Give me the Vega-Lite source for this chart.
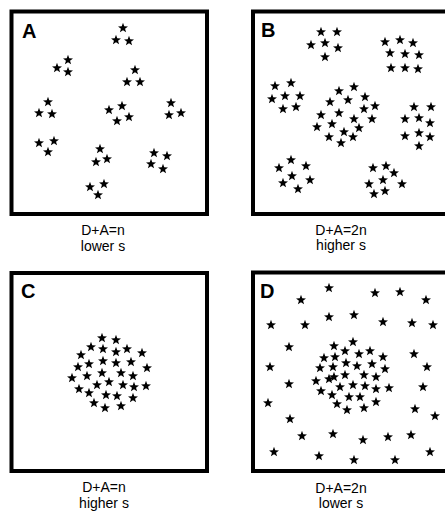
{
  "$schema": "https://vega.github.io/schema/vega-lite/v6.json",
  "width": 445,
  "height": 518,
  "autosize": {"type": "none"},
  "padding": 0,
  "background": "white",
  "config": {"view": {"stroke": null}},
  "layer": [
    {
      "data": {"values": [
        {"panel": "A", "x1": 11.5, "x2": 207, "y1": 11.5, "y2": 214},
        {"panel": "B", "x1": 253, "x2": 470, "y1": 11.5, "y2": 214},
        {"panel": "C", "x1": 11.5, "x2": 207, "y1": 273, "y2": 471},
        {"panel": "D", "x1": 253, "x2": 470, "y1": 272.5, "y2": 471}
      ]},
      "mark": {"type": "rect", "filled": false, "stroke": "black", "strokeWidth": 4},
      "encoding": {
        "x": {"field": "x1", "type": "quantitative", "scale": {"domain": [0, 445]}, "axis": null},
        "x2": {"field": "x2"},
        "y": {"field": "y1", "type": "quantitative", "scale": {"domain": [0, 518], "reverse": true}, "axis": null},
        "y2": {"field": "y2"}
      }
    },
    {
      "data": {"values": [
        {"panel": "A", "x": 123, "y": 28}, {"panel": "A", "x": 116, "y": 40}, {"panel": "A", "x": 129, "y": 41},
        {"panel": "A", "x": 68, "y": 60}, {"panel": "A", "x": 57, "y": 68}, {"panel": "A", "x": 68, "y": 72},
        {"panel": "A", "x": 135, "y": 70}, {"panel": "A", "x": 127, "y": 82}, {"panel": "A", "x": 140, "y": 82},
        {"panel": "A", "x": 48, "y": 102}, {"panel": "A", "x": 39, "y": 113}, {"panel": "A", "x": 52, "y": 114},
        {"panel": "A", "x": 122, "y": 106}, {"panel": "A", "x": 109, "y": 110}, {"panel": "A", "x": 117, "y": 121}, {"panel": "A", "x": 129, "y": 117},
        {"panel": "A", "x": 171, "y": 103}, {"panel": "A", "x": 169, "y": 115}, {"panel": "A", "x": 181, "y": 113},
        {"panel": "A", "x": 39, "y": 143}, {"panel": "A", "x": 54, "y": 141}, {"panel": "A", "x": 48, "y": 152},
        {"panel": "A", "x": 100, "y": 149}, {"panel": "A", "x": 96, "y": 162}, {"panel": "A", "x": 107, "y": 159},
        {"panel": "A", "x": 154, "y": 153}, {"panel": "A", "x": 167, "y": 156}, {"panel": "A", "x": 151, "y": 164}, {"panel": "A", "x": 163, "y": 169},
        {"panel": "A", "x": 104, "y": 184}, {"panel": "A", "x": 90, "y": 187}, {"panel": "A", "x": 98, "y": 195},

        {"panel": "B", "x": 321, "y": 32}, {"panel": "B", "x": 337, "y": 32}, {"panel": "B", "x": 311, "y": 45}, {"panel": "B", "x": 325, "y": 43}, {"panel": "B", "x": 338, "y": 48}, {"panel": "B", "x": 325, "y": 57},
        {"panel": "B", "x": 385, "y": 42}, {"panel": "B", "x": 400, "y": 40}, {"panel": "B", "x": 413, "y": 43}, {"panel": "B", "x": 390, "y": 53}, {"panel": "B", "x": 405, "y": 54}, {"panel": "B", "x": 419, "y": 55}, {"panel": "B", "x": 391, "y": 68}, {"panel": "B", "x": 405, "y": 68}, {"panel": "B", "x": 418, "y": 69},
        {"panel": "B", "x": 275, "y": 86}, {"panel": "B", "x": 291, "y": 83}, {"panel": "B", "x": 272, "y": 99}, {"panel": "B", "x": 285, "y": 96}, {"panel": "B", "x": 300, "y": 96}, {"panel": "B", "x": 283, "y": 109}, {"panel": "B", "x": 296, "y": 107},
        {"panel": "B", "x": 339, "y": 91}, {"panel": "B", "x": 354, "y": 87}, {"panel": "B", "x": 330, "y": 102}, {"panel": "B", "x": 348, "y": 100}, {"panel": "B", "x": 365, "y": 97}, {"panel": "B", "x": 321, "y": 115}, {"panel": "B", "x": 339, "y": 113}, {"panel": "B", "x": 364, "y": 109}, {"panel": "B", "x": 375, "y": 106}, {"panel": "B", "x": 317, "y": 127}, {"panel": "B", "x": 332, "y": 124}, {"panel": "B", "x": 354, "y": 119}, {"panel": "B", "x": 372, "y": 119}, {"panel": "B", "x": 329, "y": 137}, {"panel": "B", "x": 344, "y": 132}, {"panel": "B", "x": 359, "y": 128}, {"panel": "B", "x": 341, "y": 143}, {"panel": "B", "x": 353, "y": 137},
        {"panel": "B", "x": 414, "y": 107}, {"panel": "B", "x": 431, "y": 107}, {"panel": "B", "x": 405, "y": 119}, {"panel": "B", "x": 419, "y": 118}, {"panel": "B", "x": 430, "y": 123}, {"panel": "B", "x": 405, "y": 136}, {"panel": "B", "x": 419, "y": 133}, {"panel": "B", "x": 430, "y": 137}, {"panel": "B", "x": 419, "y": 146},
        {"panel": "B", "x": 279, "y": 168}, {"panel": "B", "x": 291, "y": 160}, {"panel": "B", "x": 306, "y": 166}, {"panel": "B", "x": 283, "y": 183}, {"panel": "B", "x": 292, "y": 176}, {"panel": "B", "x": 310, "y": 180}, {"panel": "B", "x": 298, "y": 189},
        {"panel": "B", "x": 373, "y": 168}, {"panel": "B", "x": 386, "y": 166}, {"panel": "B", "x": 394, "y": 173}, {"panel": "B", "x": 369, "y": 184}, {"panel": "B", "x": 383, "y": 180}, {"panel": "B", "x": 402, "y": 184}, {"panel": "B", "x": 374, "y": 194}, {"panel": "B", "x": 385, "y": 191},

        {"panel": "C", "x": 102, "y": 338}, {"panel": "C", "x": 116, "y": 340}, {"panel": "C", "x": 91, "y": 347}, {"panel": "C", "x": 103, "y": 349}, {"panel": "C", "x": 116, "y": 352}, {"panel": "C", "x": 127, "y": 349}, {"panel": "C", "x": 142, "y": 353},
        {"panel": "C", "x": 81, "y": 355}, {"panel": "C", "x": 78, "y": 367}, {"panel": "C", "x": 89, "y": 364}, {"panel": "C", "x": 103, "y": 361}, {"panel": "C", "x": 116, "y": 363}, {"panel": "C", "x": 131, "y": 362}, {"panel": "C", "x": 147, "y": 368},
        {"panel": "C", "x": 72, "y": 378}, {"panel": "C", "x": 87, "y": 376}, {"panel": "C", "x": 102, "y": 373}, {"panel": "C", "x": 121, "y": 373}, {"panel": "C", "x": 133, "y": 376},
        {"panel": "C", "x": 79, "y": 389}, {"panel": "C", "x": 97, "y": 385}, {"panel": "C", "x": 109, "y": 382}, {"panel": "C", "x": 123, "y": 385}, {"panel": "C", "x": 134, "y": 387}, {"panel": "C", "x": 146, "y": 386},
        {"panel": "C", "x": 89, "y": 393}, {"panel": "C", "x": 106, "y": 395}, {"panel": "C", "x": 117, "y": 396},
        {"panel": "C", "x": 94, "y": 403}, {"panel": "C", "x": 105, "y": 408}, {"panel": "C", "x": 121, "y": 406}, {"panel": "C", "x": 133, "y": 398},

        {"panel": "D", "x": 329, "y": 288}, {"panel": "D", "x": 301, "y": 300}, {"panel": "D", "x": 375, "y": 293}, {"panel": "D", "x": 400, "y": 292}, {"panel": "D", "x": 426, "y": 300},
        {"panel": "D", "x": 271, "y": 325}, {"panel": "D", "x": 305, "y": 325}, {"panel": "D", "x": 329, "y": 317}, {"panel": "D", "x": 354, "y": 315}, {"panel": "D", "x": 383, "y": 322}, {"panel": "D", "x": 412, "y": 323}, {"panel": "D", "x": 433, "y": 325},
        {"panel": "D", "x": 289, "y": 347}, {"panel": "D", "x": 414, "y": 354}, {"panel": "D", "x": 270, "y": 367}, {"panel": "D", "x": 427, "y": 367}, {"panel": "D", "x": 289, "y": 384}, {"panel": "D", "x": 423, "y": 387},
        {"panel": "D", "x": 268, "y": 403}, {"panel": "D", "x": 415, "y": 409}, {"panel": "D", "x": 435, "y": 416}, {"panel": "D", "x": 290, "y": 419},
        {"panel": "D", "x": 302, "y": 436}, {"panel": "D", "x": 333, "y": 434}, {"panel": "D", "x": 363, "y": 440}, {"panel": "D", "x": 388, "y": 437}, {"panel": "D", "x": 411, "y": 435},
        {"panel": "D", "x": 274, "y": 452}, {"panel": "D", "x": 319, "y": 456}, {"panel": "D", "x": 354, "y": 460}, {"panel": "D", "x": 395, "y": 460}, {"panel": "D", "x": 430, "y": 452},
        {"panel": "D", "x": 353, "y": 342}, {"panel": "D", "x": 334, "y": 346}, {"panel": "D", "x": 345, "y": 351}, {"panel": "D", "x": 359, "y": 354}, {"panel": "D", "x": 370, "y": 351}, {"panel": "D", "x": 383, "y": 357},
        {"panel": "D", "x": 324, "y": 358}, {"panel": "D", "x": 335, "y": 357}, {"panel": "D", "x": 346, "y": 363}, {"panel": "D", "x": 357, "y": 366}, {"panel": "D", "x": 372, "y": 364}, {"panel": "D", "x": 385, "y": 369},
        {"panel": "D", "x": 320, "y": 368}, {"panel": "D", "x": 333, "y": 367}, {"panel": "D", "x": 334, "y": 377}, {"panel": "D", "x": 345, "y": 375}, {"panel": "D", "x": 364, "y": 375}, {"panel": "D", "x": 376, "y": 377},
        {"panel": "D", "x": 316, "y": 381}, {"panel": "D", "x": 329, "y": 379}, {"panel": "D", "x": 340, "y": 387}, {"panel": "D", "x": 353, "y": 385}, {"panel": "D", "x": 365, "y": 386}, {"panel": "D", "x": 376, "y": 389}, {"panel": "D", "x": 389, "y": 388},
        {"panel": "D", "x": 321, "y": 391}, {"panel": "D", "x": 332, "y": 395}, {"panel": "D", "x": 349, "y": 397}, {"panel": "D", "x": 360, "y": 397}, {"panel": "D", "x": 376, "y": 402},
        {"panel": "D", "x": 337, "y": 404}, {"panel": "D", "x": 347, "y": 410}, {"panel": "D", "x": 364, "y": 408}
      ]},
      "mark": {
        "type": "point",
        "shape": "M0,-1L0.24,-0.33L0.951,-0.309L0.39,0.13L0.588,0.809L0,0.41L-0.588,0.809L-0.39,0.13L-0.951,-0.309L-0.24,-0.33Z",
        "filled": true,
        "color": "black",
        "opacity": 1,
        "size": 110
      },
      "encoding": {
        "x": {"field": "x", "type": "quantitative", "scale": {"domain": [0, 445]}, "axis": null},
        "y": {"field": "y", "type": "quantitative", "scale": {"domain": [0, 518], "reverse": true}, "axis": null}
      }
    },
    {
      "data": {"values": [
        {"label": "A", "x": 22, "y": 38},
        {"label": "B", "x": 261, "y": 37},
        {"label": "C", "x": 21, "y": 298},
        {"label": "D", "x": 260, "y": 298}
      ]},
      "mark": {"type": "text", "align": "left", "baseline": "alphabetic", "font": "Liberation Sans", "fontWeight": "bold", "fontSize": 20, "color": "black"},
      "encoding": {
        "x": {"field": "x", "type": "quantitative", "scale": {"domain": [0, 445]}, "axis": null},
        "y": {"field": "y", "type": "quantitative", "scale": {"domain": [0, 518], "reverse": true}, "axis": null},
        "text": {"field": "label"}
      }
    },
    {
      "data": {"values": [
        {"text": "D+A=n", "x": 103, "y": 235},
        {"text": "lower s", "x": 103, "y": 251},
        {"text": "D+A=2n", "x": 341, "y": 235},
        {"text": "higher s", "x": 341, "y": 250},
        {"text": "D+A=n", "x": 104, "y": 492},
        {"text": "higher s", "x": 104, "y": 508},
        {"text": "D+A=2n", "x": 341, "y": 493},
        {"text": "lower s", "x": 341, "y": 508}
      ]},
      "mark": {"type": "text", "align": "center", "baseline": "alphabetic", "font": "Liberation Sans", "fontSize": 14, "color": "black"},
      "encoding": {
        "x": {"field": "x", "type": "quantitative", "scale": {"domain": [0, 445]}, "axis": null},
        "y": {"field": "y", "type": "quantitative", "scale": {"domain": [0, 518], "reverse": true}, "axis": null},
        "text": {"field": "text"}
      }
    }
  ]
}
